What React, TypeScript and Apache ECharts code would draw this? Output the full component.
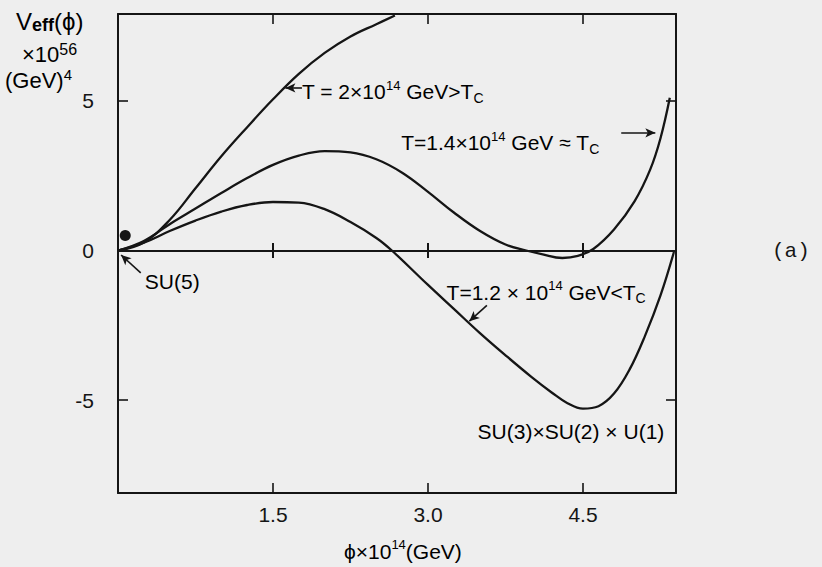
import React, { useEffect, useRef } from "react";
import * as echarts from "echarts";

// Axis tick positions
const phiTicks = [1.5, 3.0, 4.5];
const vTicks = [-5, 0, 5];
const vSideTicks = [-5, 5];

// T = 2×10^14 GeV > Tc
const phiHot = [0, 0.25, 0.5, 0.75, 1.0, 1.25, 1.5, 1.75, 2.0, 2.25, 2.5, 2.68];
const vHot = [0, 0.27, 1.02, 2.08, 3.15, 4.12, 5.05, 5.9, 6.6, 7.15, 7.56, 7.85];

// T = 1.4×10^14 GeV ≈ Tc
const phiCrit = [0, 0.25, 0.5, 0.75, 1.0, 1.25, 1.5, 1.75, 2.0, 2.25, 2.5, 2.75, 3.0, 3.25, 3.5, 3.75, 3.95, 4.1, 4.3, 4.45, 4.6, 4.8, 5.0, 5.15, 5.25, 5.34];
const vCrit = [0, 0.32, 0.88, 1.4, 1.92, 2.42, 2.86, 3.17, 3.32, 3.28, 3.05, 2.6, 1.96, 1.27, 0.66, 0.2, 0.0, -0.12, -0.25, -0.18, 0.05, 0.7, 1.65, 2.7, 3.75, 5.1];

// T = 1.2×10^14 GeV < Tc
const phiCold = [0, 0.25, 0.5, 0.75, 1.0, 1.25, 1.5, 1.75, 2.0, 2.25, 2.5, 2.65, 3.0, 3.25, 3.5, 3.75, 4.0, 4.2, 4.35, 4.5, 4.65, 4.8, 4.95, 5.1, 5.25, 5.38];
const vCold = [0, 0.26, 0.65, 1.0, 1.3, 1.52, 1.62, 1.6, 1.38, 0.95, 0.42, 0.0, -1.15, -1.95, -2.75, -3.5, -4.22, -4.75, -5.1, -5.28, -5.2, -4.78, -3.98, -2.85, -1.5, -0.05];

// Ball sitting in the symmetric SU(5) vacuum
const ballPos = [[0.07, 0.5]];
// Tick crosses on the V = 0 line
const zeroTicks = phiTicks.map((p) => [p, 0]);

const INK = "#151515";
const SANS = "'Liberation Sans', Arial, sans-serif";

const zip = (xs: number[], ys: number[]) => xs.map((x, i) => [x, ys[i]]);

const rich = {
  b: { fontSize: 21, fontFamily: SANS, color: INK, lineHeight: 26, verticalAlign: "middle" },
  sup: { fontSize: 13, fontFamily: SANS, color: INK, lineHeight: 13, verticalAlign: "top" },
  sub: { fontSize: 14, fontFamily: SANS, color: INK, lineHeight: 12, verticalAlign: "bottom" },
};

export default function App() {
  const ref = useRef<HTMLDivElement>(null);

  useEffect(() => {
    document.body.style.margin = "0";
    const chart = echarts.init(ref.current!, undefined, { renderer: "svg" });

    const curve = (name: string, xs: number[], ys: number[]) => ({
      name,
      type: "line",
      data: zip(xs, ys),
      smooth: 0.4,
      showSymbol: false,
      silent: true,
      lineStyle: { color: INK, width: 2.3 },
    });

    const arrow = (from: number[], to: number[]) => [
      { coord: from, symbol: "none" },
      { coord: to, symbol: "arrow", symbolSize: [7, 10] },
    ];

    const xAxisBase = {
      type: "value",
      min: 0,
      max: 5.4,
      splitLine: { show: false },
      axisLine: { show: true, onZero: false, lineStyle: { color: INK, width: 2 } },
      axisTick: { show: true, inside: true, length: 10, customValues: phiTicks, lineStyle: { color: INK, width: 1.6 } },
    };
    const yAxisBase = {
      type: "value",
      min: -8.1,
      max: 7.9,
      splitLine: { show: false },
      axisLine: { show: true, onZero: false, lineStyle: { color: INK, width: 2 } },
      axisTick: { show: true, inside: true, length: 10, customValues: vSideTicks, lineStyle: { color: INK, width: 1.6 } },
    };

    chart.setOption({
      animation: false,
      backgroundColor: "#eeeeee",
      grid: { left: 118, right: 146, top: 14, bottom: 74 },
      xAxis: [
        {
          ...xAxisBase,
          position: "bottom",
          axisLabel: {
            customValues: phiTicks,
            formatter: (v: number) => v.toFixed(1),
            fontSize: 21,
            fontFamily: SANS,
            color: INK,
            margin: 11,
          },
        },
        { ...xAxisBase, position: "top", axisLabel: { show: false } },
      ],
      yAxis: [
        {
          ...yAxisBase,
          position: "left",
          axisLabel: {
            customValues: vTicks,
            formatter: (v: number) => String(v),
            fontSize: 21,
            fontFamily: SANS,
            color: INK,
            margin: 24,
          },
        },
        { ...yAxisBase, position: "right", axisLabel: { show: false } },
      ],
      series: [
        {
          ...curve("T = 2×10^14 GeV", phiHot, vHot),
          markLine: {
            silent: true,
            symbol: "none",
            label: { show: false },
            lineStyle: { color: INK, width: 2, type: "solid" },
            data: [{ yAxis: 0 }],
          },
        },
        curve("T = 1.4×10^14 GeV", phiCrit, vCrit),
        curve("T = 1.2×10^14 GeV", phiCold, vCold),
        {
          type: "scatter",
          data: ballPos,
          symbol: "circle",
          symbolSize: 11,
          itemStyle: { color: INK, opacity: 1 },
          silent: true,
        },
        {
          type: "scatter",
          data: zeroTicks,
          symbol: "rect",
          symbolSize: [2, 15],
          itemStyle: { color: INK, opacity: 1 },
          silent: true,
        },
        {
          type: "line",
          data: [],
          silent: true,
          markLine: {
            silent: true,
            label: { show: false },
            lineStyle: { color: INK, width: 1.6, type: "solid" },
            data: [
              arrow([1.78, 5.43], [1.62, 5.43]),
              arrow([4.87, 3.93], [5.2, 3.93]),
              arrow([3.57, -1.83], [3.4, -2.36]),
              arrow([0.22, -0.75], [0.03, -0.15]),
            ],
          },
        },
      ],
    });

    const px = (p: number[]) => chart.convertToPixel({ gridIndex: 0 }, p) as number[];
    const label = (pos: number[], text: string) => {
      const [x, y] = px(pos);
      return {
        type: "text",
        x,
        y,
        style: { text, rich, verticalAlign: "middle", align: "left" },
        silent: true,
      };
    };

    chart.setOption({
      graphic: [
        label([1.78, 5.3], "{b|T = 2×10}{sup|14}{b| GeV>T}{sub|C}"),
        label([2.74, 3.6], "{b|T=1.4×10}{sup|14}{b| GeV ≈ T}{sub|C}"),
        label([3.18, -1.4], "{b|T=1.2 × 10}{sup|14}{b| GeV<T}{sub|C}"),
        label([0.26, -1.03], "{b|SU(5)}"),
        label([3.48, -6.05], "{b|SU(3)×SU(2) × U(1)}"),
        {
          type: "text",
          x: 16,
          y: 21,
          style: {
            text: "{v|V}{e|eff}{v|(ϕ)}",
            verticalAlign: "middle",
            rich: {
              v: { fontSize: 24, fontFamily: SANS, color: INK, lineHeight: 26, verticalAlign: "middle" },
              e: { fontSize: 18, fontFamily: SANS, fontWeight: "bold", color: INK, lineHeight: 14, verticalAlign: "bottom" },
            },
          },
          silent: true,
        },
        {
          type: "text",
          x: 22,
          y: 53,
          style: {
            text: "{b|×10}{sup|56}",
            verticalAlign: "middle",
            rich: {
              b: { ...rich.b, fontSize: 22, lineHeight: 24, verticalAlign: "bottom" },
              sup: { ...rich.sup, fontSize: 16, lineHeight: 12, verticalAlign: "top" },
            },
          },
          silent: true,
        },
        {
          type: "text",
          x: 5,
          y: 79,
          style: {
            text: "{b|(GeV)}{sup|4}",
            verticalAlign: "middle",
            rich: {
              b: { ...rich.b, fontSize: 22, lineHeight: 24, verticalAlign: "bottom" },
              sup: { ...rich.sup, fontSize: 15, lineHeight: 11, verticalAlign: "top" },
            },
          },
          silent: true,
        },
        {
          type: "text",
          x: 344,
          y: 551,
          style: {
            text: "{b|ϕ×10}{sup|14}{b|(GeV)}",
            verticalAlign: "middle",
            rich,
          },
          silent: true,
        },
        {
          type: "text",
          x: 772,
          y: 251,
          style: {
            text: "(a)",
            fontSize: 21,
            fontFamily: "'Liberation Mono', 'DejaVu Sans Mono', monospace",
            fill: INK,
            verticalAlign: "middle",
          },
          silent: true,
        },
      ],
    });

    return () => chart.dispose();
  }, []);

  return <div ref={ref} style={{ width: 822, height: 567 }} />;
}
